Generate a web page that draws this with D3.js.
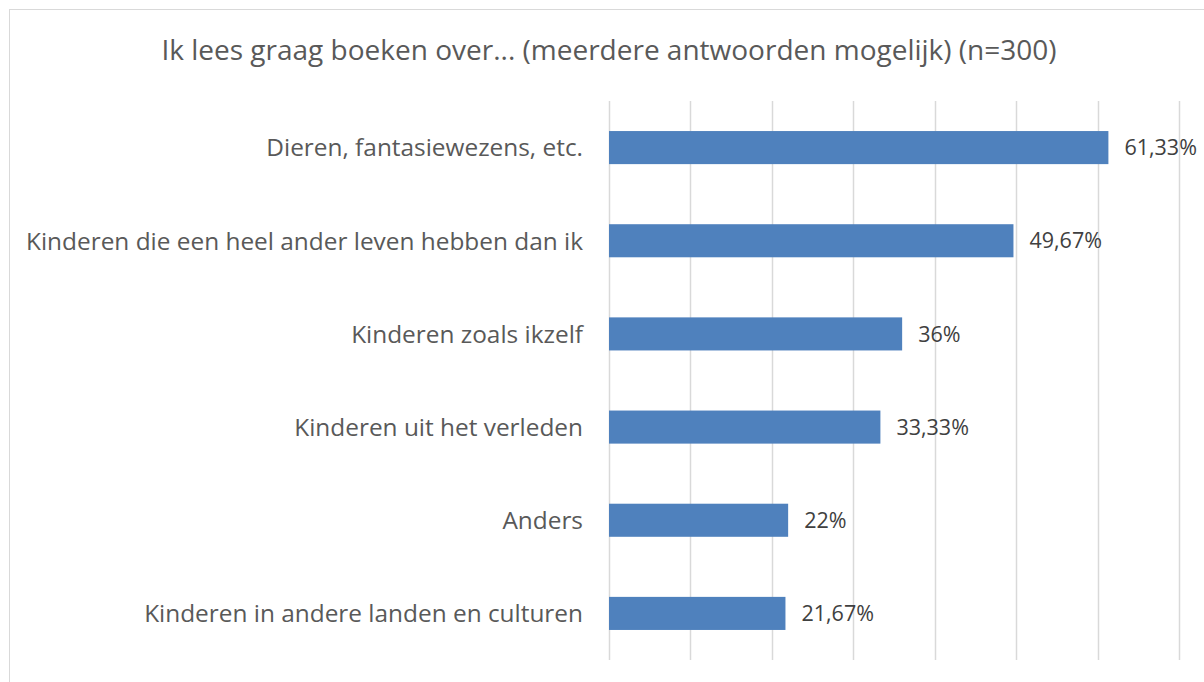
<!DOCTYPE html>
<html><head><meta charset="utf-8">
<script src="https://cdn.jsdelivr.net/npm/d3@7"></script>
<style>body{margin:0;background:#fff;}svg{display:block;}</style>
</head><body>
<svg id="chart" width="1204" height="682"></svg>
<script>
const categories = [
  "Dieren, fantasiewezens, etc.",
  "Kinderen die een heel ander leven hebben dan ik",
  "Kinderen zoals ikzelf",
  "Kinderen uit het verleden",
  "Anders",
  "Kinderen in andere landen en culturen"
];
const values = [61.33, 49.67, 36, 33.33, 22, 21.67];
const valueLabels = ["61,33%", "49,67%", "36%", "33,33%", "22%", "21,67%"];
const gridTicks = [0, 10, 20, 30, 40, 50, 60, 70];
const title = "Ik lees graag boeken over... (meerdere antwoorden mogelijk) (n=300)";

const svg = d3.select("#chart");
const font = "'Open Sans', sans-serif";
const textColor = "#595959";

svg.append("rect").attr("x", 9.5).attr("y", 9.5).attr("width", 1300).attr("height", 800)
  .attr("fill", "#fff").attr("stroke", "#d9d9d9").attr("stroke-width", 1);

const x = d3.scaleLinear().domain([0, 70]).range([609, 1179]);
const y = d3.scaleBand().domain(categories).range([101, 660]).paddingInner(0.645).paddingOuter(0.3225);

svg.append("g").selectAll("line").data(gridTicks).join("line")
  .attr("x1", d => Math.round(x(d)) + 0.5).attr("x2", d => Math.round(x(d)) + 0.5)
  .attr("y1", 101).attr("y2", 660)
  .attr("stroke", "#d9d9d9").attr("stroke-width", 1.5);

svg.append("g").selectAll("rect").data(values).join("rect")
  .attr("x", x(0)).attr("y", (d, i) => y(categories[i]))
  .attr("width", d => x(d) - x(0)).attr("height", y.bandwidth())
  .attr("fill", "#4f81bd");

svg.append("g").selectAll("text").data(categories).join("text")
  .attr("x", 583).attr("y", d => y(d) + y.bandwidth() / 2)
  .attr("dy", "0.36em").attr("text-anchor", "end")
  .attr("font-family", font).attr("font-size", 24.4).attr("fill", textColor)
  .text(d => d);

svg.append("g").selectAll("text").data(values).join("text")
  .attr("x", d => x(d) + 16).attr("y", (d, i) => y(categories[i]) + y.bandwidth() / 2)
  .attr("dy", "0.36em")
  .attr("font-family", font).attr("font-size", 21.5).attr("fill", "#404040")
  .text((d, i) => valueLabels[i]);

svg.append("text").attr("x", 609).attr("y", 50).attr("dy", "0.36em")
  .attr("text-anchor", "middle").attr("font-family", font).attr("font-size", 28)
  .attr("fill", textColor).text(title);
</script>
</body></html>
